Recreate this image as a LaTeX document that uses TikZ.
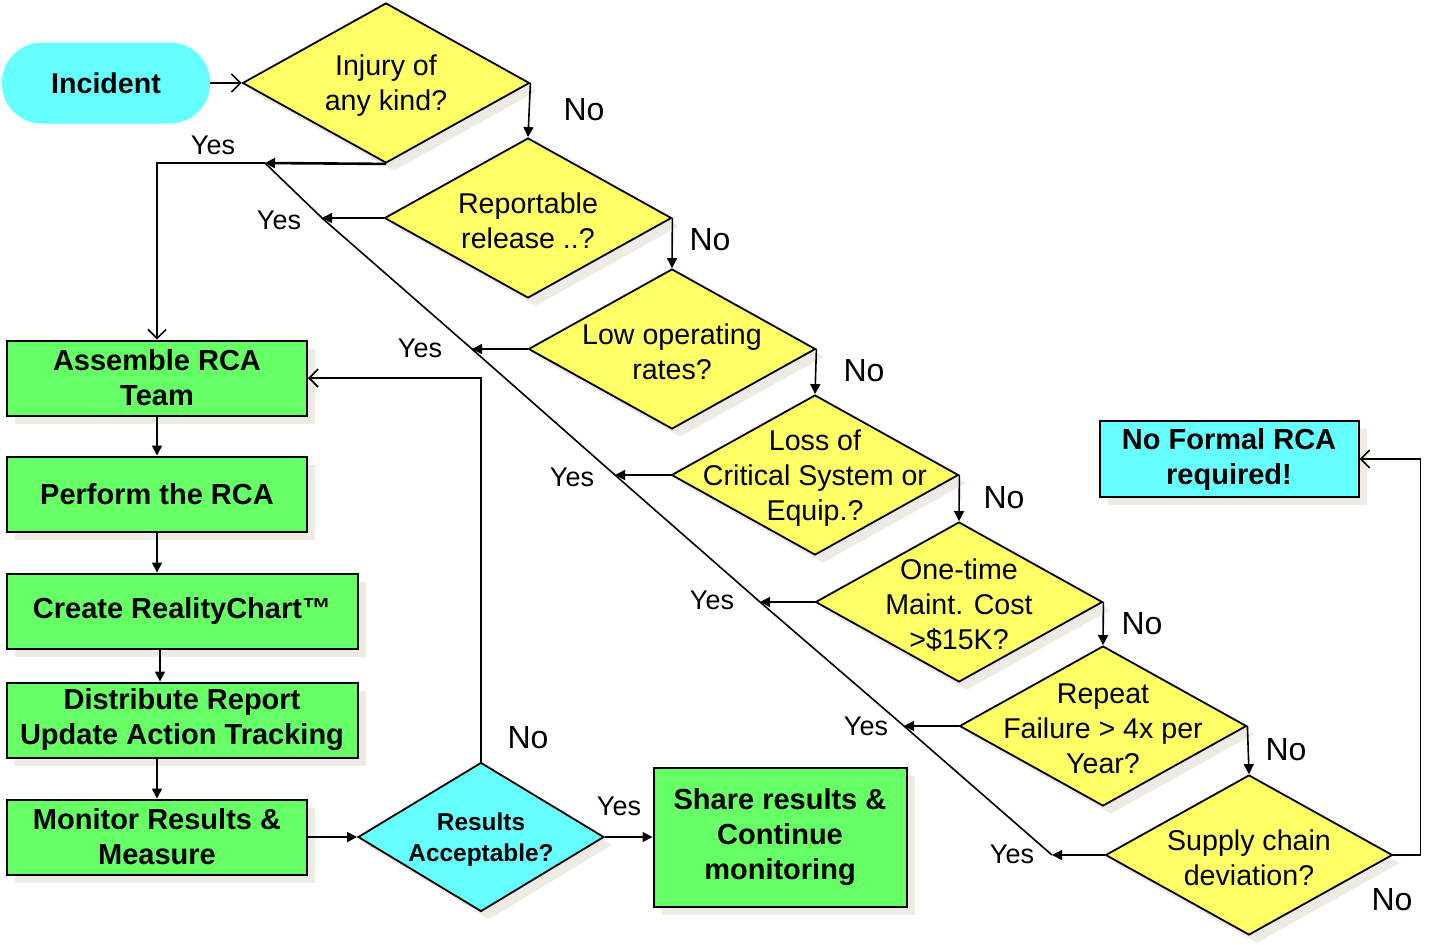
\documentclass[tikz,border=0pt]{standalone}
\usepackage{fontspec}
\setmainfont{Liberation Sans}
\usetikzlibrary{shapes.geometric,arrows.meta,shadows}
\definecolor{qyellow}{HTML}{FFFF66}
\definecolor{bgreen}{HTML}{66FF66}
\definecolor{scyan}{HTML}{66FFFF}
\definecolor{shadowc}{HTML}{EDEBE4}
\tikzset{
  shade8/.style={drop shadow={shadow xshift=4pt,shadow yshift=-4pt,fill=shadowc,opacity=1}},
  dia/.style={diamond,draw,line width=0.9pt,fill=qyellow,inner sep=0pt,minimum width=143.5pt,minimum height=80pt,shade8},
  qtext/.style={font=\fontsize{14.3}{17.5}\selectfont,align=center,yshift=-1.5pt},
  box/.style={rectangle,draw,line width=1pt,fill=bgreen,minimum height=37.5pt,inner sep=0pt,align=center,font=\bfseries\fontsize{14.5}{17.5}\selectfont,shade8},
  yes/.style={font=\fontsize{13.5}{16}\selectfont},
  no/.style={font=\fontsize{16}{19}\selectfont},
  flow/.style={line width=0.8pt,-{Triangle[length=5pt,width=5pt]}},
  back/.style={line width=0.8pt,-{Straight Barb[length=4.5pt,width=9pt]}}
}
\begin{document}
\begin{tikzpicture}[x=0.5pt,y=-0.5pt]
		\useasboundingbox (0,0) rectangle (1433,944);

		\node[fill=scyan,rounded corners=20pt,minimum width=104pt,minimum height=40.5pt,font=\bfseries\fontsize{14.3}{17}\selectfont] (INC) at (106,83) {Incident};

		\foreach \n/\cx/\cy/\txt in {1/386/83/{Injury of\\any kind?},2/528/218/{Reportable\\release ..?},3/672/349/{Low operating\\rates?},4/815/475/{Loss of\\Critical System or\\Equip.?},5/959/602/{One-time\\Maint. Cost\\>\$15K?},6/1103/726/{Repeat\\Failure > 4x per\\Year?},7/1249/855/{Supply chain\\deviation?}}
		{
		\node[dia] (Q\n) at (\cx,\cy) {};
		\node[qtext] at (Q\n) {\txt};
		}

		\coordinate (J1) at (265,163);
		\coordinate (J2) at (322,218);
		\coordinate (J3) at (472,349);
		\coordinate (J4) at (615,475);
		\coordinate (J5) at (760,602);
		\coordinate (J6) at (904,726);
		\coordinate (J7) at (1052,855);

		\node[box,minimum width=150pt] (ASM) at (157,378) {Assemble RCA\\Team};
		\node[box,minimum width=150pt] (PERF) at (157,494) {Perform the RCA};
		\node[box,minimum width=175.5pt] (CRT) at (182,611) {Create RealityChart™};
		\node[box,minimum width=175.5pt] (DIST) at (182,720) {Distribute Report\\Update Action Tracking};
		\node[box,minimum width=150pt] (MON) at (157,837) {Monitor Results \&\\Measure};
		\node[diamond,draw,line width=0.9pt,fill=scyan,inner sep=0pt,minimum width=123pt,minimum height=74.5pt,shade8] (RES) at (481,837) {};
		\node[align=center,font=\bfseries\fontsize{12.2}{15.5}\selectfont,yshift=-1.5pt] at (RES) {Results\\Acceptable?};
		\node[box,minimum width=126.5pt,minimum height=69.5pt] (SHR) at (780,837) {Share results \&\\Continue\\monitoring};
		\node[box,fill=scyan,minimum width=129.5pt,minimum height=38pt] (NOF) at (1229,459) {No Formal RCA\\required!};

		\draw[back] (INC.east) -- (Q1.west);
		\foreach \a/\b in {1/2,2/3,3/4,4/5,5/6,6/7}
		\draw[flow] (Q\a.east) -- (Q\b.north);
		\foreach \n in {2,...,7}
		\draw[flow] (Q\n.west) -- (J\n);
		\draw[line width=0.8pt] (J7) -- (J6) -- (J5) -- (J4) -- (J3) -- (J2) -- (J1);
		\draw[flow,line width=1.3pt] (Q1.south) -- (J1);
		\draw[back] (J1) -| (ASM.north);
		\draw[back] (Q7.east) -- ++(27,0) |- (NOF.east);

		\draw[flow] (ASM.south) -- (PERF.north);
		\draw[flow] (PERF.south) -- (PERF.south |- CRT.north);
		\draw[flow] (CRT.south -| 160,0) -- (DIST.north -| 160,0);
		\draw[flow] (DIST.south -| MON.north) -- (MON.north);
		\draw[flow] (MON.east) -- (RES.west);
		\draw[flow] (RES.east) -- (SHR.west);
		\draw[back] (RES.north) |- (ASM.east);

		\foreach \x/\y in {584/110,710/240,864/371,1004/498,1142/624,1286/750,1392/900,528/738}
		\node[no] at (\x,\y) {No};
		\foreach \x/\y in {213/145,279/220,420/348,572/477,712/600,866/726,1012/854,619/806}
		\node[yes] at (\x,\y) {Yes};

	    \end{tikzpicture}
\end{document}
